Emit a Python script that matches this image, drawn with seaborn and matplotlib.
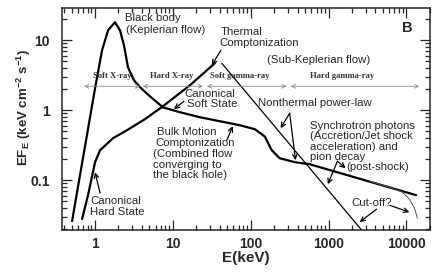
import numpy as np
import pandas as pd
import matplotlib
matplotlib.use('Agg')
import matplotlib.pyplot as plt
import seaborn as sns
from matplotlib.ticker import FuncFormatter

# spectra (E in keV, EF_E)
bb_E = [0.507, 0.624, 0.767, 1.0, 1.23, 1.47, 1.80, 2.09, 2.35, 2.65, 3.16, 3.78, 5.07, 7.45]
bb_F = [0.026, 0.10, 0.373, 2.06, 7.2, 13.9, 18.1, 13.9, 8.5, 4.1, 2.68, 2.13, 1.58, 1.10]

soft_E = [7.45, 12.3, 22.2, 40.0, 72.4, 112.8, 151.5, 186, 235, 366, 570, 13300]
soft_F = [1.10, 0.936, 0.794, 0.696, 0.610, 0.535, 0.42, 0.268, 0.206, 0.181, 0.169, 0.0611]

cut_E = [3350, 6100, 8850, 10900, 12700, 13800]
cut_F = [0.0967, 0.0794, 0.0675, 0.0535, 0.0398, 0.0286]

hard_E = [0.681, 0.813, 1.0, 1.16, 1.70, 2.57, 4.37, 7.45, 16.5, 34.5]
hard_F = [0.0278, 0.0611, 0.181, 0.268, 0.398, 0.518, 0.744, 1.14, 2.27, 4.69]

nonth_E = [42.4, 2660]
nonth_F = [4.69, 0.0193]

bands = ['Soft X-ray', 'Hard X-ray', 'Soft gamma-ray', 'Hard gamma-ray']
band_lo = [0.72, 4.12, 27.3, 326]
band_hi = [3.78, 24.2, 289, 14600]
band_mid = [1.65, 9.7, 72.4, 1510]

sns.set_style('ticks')
plt.rcParams['font.family'] = ['Liberation Sans', 'DejaVu Sans']

fig = plt.figure(figsize=(4.36, 2.73), dpi=100)
ax = fig.add_axes([0.143, 0.157, 0.843, 0.814])

curves = [(bb_E, bb_F, 1.6, 'black'), (soft_E, soft_F, 1.6, 'black'),
          (hard_E, hard_F, 1.6, 'black'), (nonth_E, nonth_F, 0.9, 'black'),
          (cut_E, cut_F, 0.7, '#555555')]
for e, f, lw, c in curves:
    df = pd.DataFrame({'E': e, 'F': f})
    sns.lineplot(data=df, x='E', y='F', sort=False, estimator=None, ax=ax, lw=lw, color=c)

ax.set_xscale('log')
ax.set_yscale('log')
ax.set_xlim(0.38, 20000)
ax.set_ylim(0.0193, 29)
fmt = FuncFormatter(lambda v, p: '%g' % v)
ax.xaxis.set_major_formatter(fmt)
ax.yaxis.set_major_formatter(fmt)
ax.tick_params(which='both', direction='in', top=True, right=True, width=0.9)
ax.tick_params(which='major', length=7, labelsize=10)
ax.tick_params(which='minor', length=3.5)
ax.tick_params(axis='y', which='major', pad=9)
ax.tick_params(axis='x', which='major', pad=5)
for lab in ax.get_xticklabels() + ax.get_yticklabels():
    lab.set_fontweight('bold')
for s in ax.spines.values():
    s.set_linewidth(1.1)

ax.set_xlabel('E(keV)', fontsize=11, fontweight='bold', labelpad=0)
ax.set_ylabel(r'EF$_\mathregular{E}$ (keV cm$^\mathregular{-2}$ s$^\mathregular{-1}$)',
              fontsize=9.5, fontweight='bold')
ax.yaxis.set_label_coords(-0.08, 0.55)

# energy bands
for name, lo, hi, mid in zip(bands, band_lo, band_hi, band_mid):
    ax.annotate('', xy=(hi, 2.2), xytext=(lo, 2.2),
                arrowprops=dict(arrowstyle='<->', lw=0.6, color='#8a8a8a',
                                shrinkA=0, shrinkB=0, mutation_scale=7))
    ax.text(mid, 3.06, name, ha='center', va='center', fontsize=6.2,
            family='Liberation Serif', fontweight='bold', color='#333333')

labels = [
    ('Black body', 2.42, 20.7), ('(Keplerian flow)', 2.50, 13.9),
    ('Thermal', 41.3, 13.0), ('Comptonization', 40.1, 9.06),
    ('(Sub-Keplerian flow)', 160, 5.18),
    ('Canonical', 14.2, 1.70), ('Soft State', 15.1, 1.22),
    ('Nonthermal power-law', 123, 1.26),
    ('Synchrotron photons', 574, 0.591), ('(Accretion/Jet shock', 574, 0.425),
    ('acceleration) and', 574, 0.296), ('pion decay', 574, 0.213),
    ('(post-shock)', 1690, 0.153),
    ('Bulk Motion', 6.23, 0.485), ('Comptonization', 5.89, 0.338),
    ('(Combined flow', 5.54, 0.235), ('converging to', 5.54, 0.164),
    ('the black hole)', 5.54, 0.118),
    ('Canonical', 0.863, 0.0500), ('Hard State', 0.863, 0.0348),
    ('Cut-off?', 1970, 0.0474),
]
for t, x, y in labels:
    ax.text(x, y, t, ha='left', va='center', fontsize=8.2)
ax.text(8850, 14.8, 'B', ha='left', va='center', fontsize=10.5, fontweight='bold')

arrows = [
    ((31.6, 4.39), (41.3, 7.2)),
    ((10.3, 1.03), (13.8, 1.34)),
    ((242, 0.553), (316, 0.906)),
    ((376, 0.193), (316, 0.906)),
    ((58.8, 0.591), (49.3, 0.373)),
    ((1.0, 0.130), (1.16, 0.065)),
    ((975, 0.0877), (1300, 0.187)),
    ((1650, 0.148), (1300, 0.187)),
    ((10900, 0.0348), (6100, 0.0438)),
    ((2500, 0.0251), (4130, 0.0385)),
]
for xy, xyt in arrows:
    ax.annotate('', xy=xy, xytext=xyt,
                arrowprops=dict(arrowstyle='->', lw=0.9, color='black',
                                shrinkA=0, shrinkB=0, mutation_scale=8))

plt.savefig('out.png', dpi=100)
